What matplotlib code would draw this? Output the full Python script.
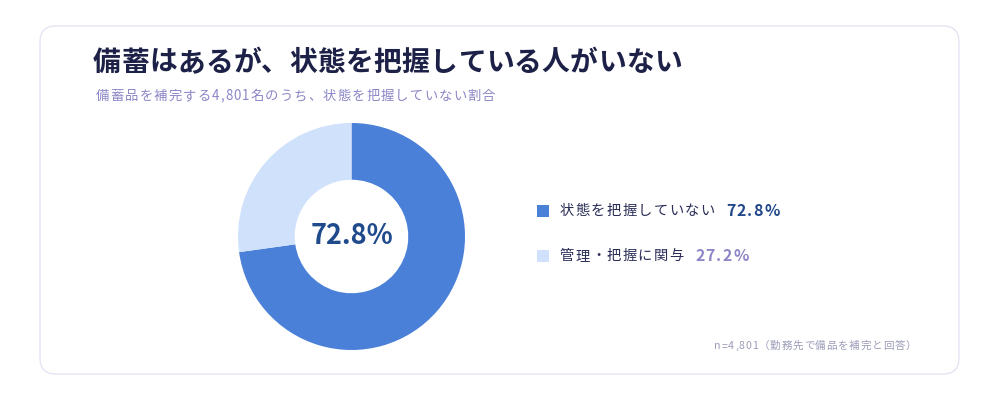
import matplotlib.pyplot as plt
from matplotlib.patches import FancyBboxPatch, Rectangle

plt.rcParams['font.family'] = ['Noto Sans CJK JP', 'DejaVu Sans']

# --- データ ---
labels = ["状態を把握していない", "管理・把握に関与"]
shares = [72.8, 27.2]
colors = ["#4a80d8", "#d0e2fb"]
value_colors = ["#22488a", "#8c86c8"]
title = "備蓄はあるが、状態を把握している人がいない"
subtitle = "備蓄品を補完する4,801名のうち、状態を把握していない割合"
note = "n=4,801（勤務先で備品を補完と回答）"

fig = plt.figure(figsize=(10, 4), dpi=100)
fig.patch.set_facecolor("white")

# 背景 (ピクセル座標)
bg = fig.add_axes([0, 0, 1, 1])
bg.set_xlim(0, 1000); bg.set_ylim(400, 0); bg.axis("off")
card = FancyBboxPatch((40, 26), 919, 348, boxstyle="round,pad=0,rounding_size=16",
                      fc="white", ec="#e3e5f4", lw=1.0)
bg.add_patch(card)

renderer = fig.canvas.get_renderer()


def spaced(x, y, s, gap, ha="left", **kw):
    # 字間つきで1文字ずつ置く
    widths = []
    for ch in s:
        t = bg.text(0, 0, ch, **kw)
        widths.append(t.get_window_extent(renderer).width)
        t.remove()
    total = sum(widths) + gap * (len(s) - 1)
    if ha == "right":
        x = x - total
    for ch, w in zip(s, widths):
        bg.text(x, y, ch, ha="left", va="center", **kw)
        x += w + gap
    return x - gap


spaced(93, 63, title, 0.3, fontsize=20, fontweight="bold", color="#1d2147")
spaced(96, 96, subtitle, 1.1, fontsize=9.6, color="#8a86c6")
spaced(916, 346, note, 0.8, ha="right", fontsize=7.6, color="#9b9cb8")

# 凡例
rows_y = [211, 256]
for i, (lab, val) in enumerate(zip(labels, shares)):
    y = rows_y[i]
    bg.add_patch(Rectangle((537, y - 6), 12, 12, fc=colors[i], ec="none"))
    x_end = spaced(560, y, lab, 1.3, fontsize=10.3, color="#2a2e58")
    spaced(x_end + 12, y, f"{val}%", 1.2, fontsize=11.5, fontweight="bold",
           color=value_colors[i])

# ドーナツ
cx, cy, r = 351.5, 236.5, 113.5
pax = fig.add_axes([(cx - r) / 1000, (400 - cy - r) / 400, 2 * r / 1000, 2 * r / 400])
pax.pie(shares, colors=colors, startangle=90, counterclock=False,
        wedgeprops=dict(width=0.5, edgecolor="none"), radius=1)
pax.set_xlim(-1, 1); pax.set_ylim(-1, 1)
pax.set_aspect("auto")
pax.text(0, 0, f"{shares[0]}%", fontsize=19.5, fontweight="bold", color="#1f4a8c",
         ha="center", va="center")

fig.savefig("out.png", dpi=100, facecolor="white")
